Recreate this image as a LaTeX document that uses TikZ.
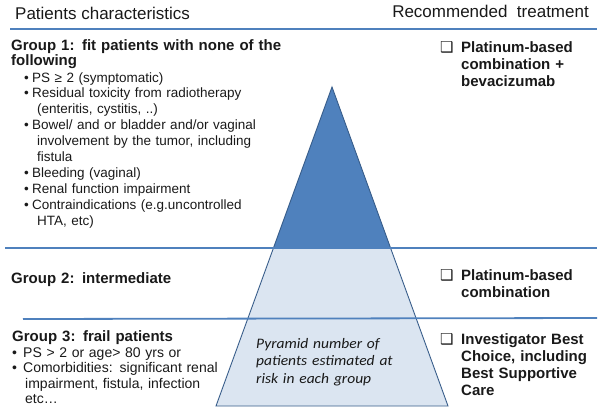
\documentclass[tikz,border=0pt]{standalone}
\usepackage{fontspec}
\setmainfont{Liberation Sans}
\newfontfamily\carlito[FakeStretch=1.07]{Carlito}
\newfontfamily\dejavu{DejaVu Sans}
\definecolor{lineblue}{RGB}{79,129,189}
\definecolor{pyrdark}{RGB}{79,129,189}
\definecolor{pyrlight}{RGB}{219,229,241}
\definecolor{pyredge}{RGB}{56,93,138}
\definecolor{txt}{RGB}{25,25,25}
\newcommand{\itm}[1][8pt]{\makebox[#1][l]{•}}% puce
\newcommand{\chk}{\makebox[21pt][l]{\dejavu\fontsize{15}{15}\selectfont ❑}}% case a cocher
\tikzset{
  heading/.style = {anchor=base west, inner sep=0pt, text=txt,
    font=\fontsize{17}{20}\selectfont},
  grouphead/.style = {anchor=base west, inner sep=0pt, text=txt, text width=300pt,
    align=left, font=\fontsize{15}{15}\selectfont\bfseries},
  crit/.style = {anchor=base west, inner sep=0pt, text=txt, text width=260pt,
    align=left, font=\fontsize{13.5}{15.9}\selectfont},% criteres groupe 1
  crit3/.style = {crit, font=\fontsize{14}{15.5}\selectfont},% criteres groupe 3
  treat/.style = {anchor=base west, inner sep=0pt, text=txt, text width=170pt,
    align=left, font=\fontsize{15}{17}\selectfont\bfseries},
  pyrtext/.style = {anchor=base west, inner sep=0pt, text=txt, text width=200pt,
    align=left, font=\fontsize{14.5}{17.5}\selectfont\carlito\itshape},
  sepline/.style = {lineblue, line width=1.8pt}
}
\begin{document}
\begin{tikzpicture}[x=1pt,y=-1pt]
  \useasboundingbox (0,0) rectangle (604,415);
  \coordinate (apex) at (332,87);
  \coordinate (baseL) at (216,406);
  \coordinate (baseR) at (448,406);
  \coordinate (cutL) at (273.3,248);
  \coordinate (cutR) at (390.7,248);
  % pyramide
  \fill[pyrlight] (apex) -- (baseR) -- (baseL) -- cycle;
  \fill[pyrdark] (apex) -- (cutR) -- (cutL) -- cycle;
  \draw[pyredge, line width=0.9pt] (apex) -- (baseR) -- (baseL) -- cycle;
  % lignes de separation
  \draw[sepline] (10,29) -- (597,29);
  \draw[sepline] (5,248) -- (597,248);
  \draw[sepline] (23,319) -- (597,318);
  % en-tetes
  \node[heading] (lefthead) at (15,19) {Patients characteristics};
  \node[heading, anchor=base east] (righthead) at (589,17.5) {Recommended\ \ treatment};
  % groupe 1
  \node[grouphead] (g1) at (11,50) {Group 1: fit patients with none of the\\following};
  \node[crit] (g1list) at (24,82) {\itm PS ≥ 2 (symptomatic)\\
    \itm Residual toxicity from radiotherapy\\
    \hspace*{13pt}(enteritis, cystitis, ..)\\
    \itm Bowel/ and or bladder and/or vaginal\\
    \hspace*{13pt}involvement by the tumor, including\\
    \hspace*{13pt}fistula\\
    \itm Bleeding (vaginal)\\
    \itm Renal function impairment\\
    \itm Contraindications (e.g.uncontrolled\\
    \hspace*{13pt}HTA, etc)};
  \node[treat] (t1) at (440,52) {\chk Platinum-based\\
    \hspace*{21pt}combination +\\
    \hspace*{21pt}bevacizumab};
  % groupe 2
  \node[grouphead] (g2) at (11,283) {Group 2: intermediate};
  \node[treat] (t2) at (440,280) {\chk Platinum-based\\
    \hspace*{21pt}combination};
  % groupe 3
  \node[grouphead] (g3) at (12,341) {Group 3: frail patients};
  \node[crit3] (g3list) at (12,357) {\itm[11pt]PS > 2 or age> 80 yrs or\\
    \itm[11pt]Comorbidities: significant renal\\
    \hspace*{13pt}impairment, fistula, infection\\
    \hspace*{13pt}etc…};
  \node[treat] (t3) at (440,344) {\chk Investigator Best\\
    \hspace*{21pt}Choice, including\\
    \hspace*{21pt}Best Supportive\\
    \hspace*{21pt}Care};
  \node[pyrtext] (pyrnote) at (256,348) {Pyramid number of\\patients estimated at\\risk in each group};
\end{tikzpicture}
\end{document}
